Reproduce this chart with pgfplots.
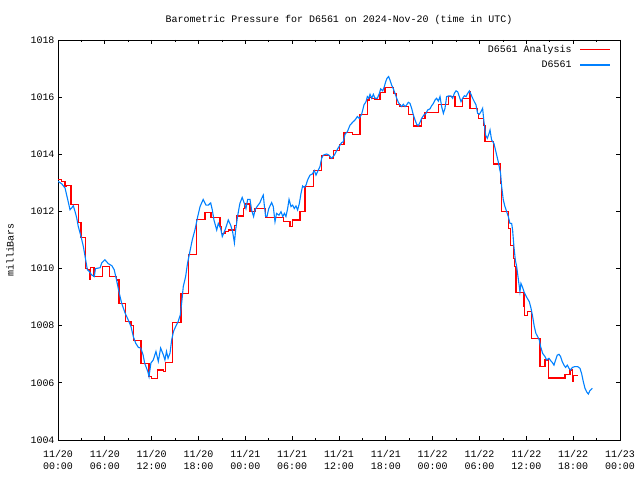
\documentclass[border=0pt]{standalone}
\usepackage{fontspec}
\setmainfont{Liberation Mono}
\usepackage{pgfplots}
\pgfplotsset{compat=1.18}
\definecolor{anared}{RGB}{255,0,0}
\definecolor{obsblue}{RGB}{0,128,255}

\begin{document}
\fontsize{10}{12}\selectfont
\begin{tikzpicture}
\path[use as bounding box] (-58bp,-40bp) rectangle (582bp,440bp);
\begin{axis}[
    scale only axis, width=562bp, height=400bp,
    at={(0,0)}, anchor=south west,
    xmin=0, xmax=72, ymin=1004, ymax=1018,
    xtick={0,6,...,72}, minor x tick num=1,
    ytick={1004,1006,...,1018},
    xticklabels={{11/20\\00:00},{11/20\\06:00},{11/20\\12:00},{11/20\\18:00},
                 {11/21\\00:00},{11/21\\06:00},{11/21\\12:00},{11/21\\18:00},
                 {11/22\\00:00},{11/22\\06:00},{11/22\\12:00},{11/22\\18:00},
                 {11/23\\00:00}},
    xticklabel style={align=center, font=\fontsize{10}{12}\selectfont, yshift=-7bp},
    /pgf/number format/assume math mode=true,
    yticklabel style={/pgf/number format/1000 sep={}},
    tick align=inside, major tick length=4bp, minor tick length=2bp,
    tick style={black, line width=0.8bp},
    axis line style={line width=0.8bp},
    title={Barometric Pressure for D6561 on 2024-Nov-20 (time in UTC)},
    title style={at={(0.5,1)}, anchor=base, yshift=12bp},
    ylabel={milliBars},
    ylabel style={at={(axis description cs:0,0.5)}, anchor=center, yshift=48bp, xshift=-10bp},
    legend plot pos=right, legend cell align=right,
    legend style={draw=none, fill=none, at={(1,1)}, anchor=north east,
                  xshift=-6bp, yshift=-1bp, row sep=3bp},
    legend image code/.code={\draw[#1] (0bp,0bp) (6bp,0bp) -- (36bp,0bp);},
]
\addplot[draw=anared, line width=1.1bp, const plot,
         legend image code/.code={\draw[anared, line width=1.3bp] (0bp,0bp) (6bp,0bp) -- (36bp,0bp);}]
coordinates {
(0,1013.13) (0.47,1013.05) (0.9,1012.87) (1.1,1012.9) (1.67,1012.23)
(2.6,1011.6) (2.95,1011.09) (3.54,1010.0) (3.76,1009.96) (4.01,1009.63)
(4.18,1010.03) (4.61,1009.72) (5.72,1010.07) (6.6,1009.72) (7.51,1009.6)
(7.81,1008.79) (8.67,1008.15) (9.35,1008.0) (9.65,1007.48) (10.63,1006.69)
(11.66,1006.22) (12.0,1006.16) (12.72,1006.45) (13.49,1006.4) (13.79,1006.7)
(14.65,1008.1) (15.76,1009.14) (16.7,1010.5) (17.76,1011.73) (18.83,1011.95)
(19.6,1011.79) (20.75,1011.47) (20.97,1011.24) (21.39,1011.3) (21.82,1011.35)
(22.59,1011.52) (22.89,1011.84) (23.74,1012.1) (23.95,1012.26) (24.6,1011.99)
(25.24,1012.1) (26.6,1011.79) (28.87,1011.64) (29.72,1011.47) (30.06,1011.7)
(31.0,1011.99) (31.64,1012.87) (32.71,1013.43) (33.78,1013.97) (34.84,1013.86)
(35.27,1014.13) (36.12,1014.33) (36.64,1014.76) (37.75,1014.7) (38.69,1015.38)
(39.63,1015.9) (39.89,1016.0) (40.19,1015.96) (40.61,1015.93) (41.25,1016.17)
(41.89,1016.33) (42.96,1016.13) (43.39,1015.73) (43.82,1015.67) (44.88,1015.38)
(45.52,1014.99) (46.59,1015.26) (47.02,1015.46) (48.73,1015.75) (50.01,1016.02)
(50.86,1015.67) (51.8,1015.96) (52.7,1016.19) (52.78,1015.61) (53.72,1015.43)
(53.85,1015.26) (54.49,1015.02) (54.7,1014.44) (55.85,1013.66) (56.71,1012.98)
(56.84,1011.99) (57.69,1011.4) (58.0,1010.82) (58.33,1010.36) (58.54,1010.07)
(58.67,1009.15) (59.7,1008.67) (59.82,1008.37) (60.12,1008.49) (60.68,1007.55)
(61.75,1006.57) (62.39,1006.8) (62.81,1006.17) (64.95,1006.3) (65.59,1006.45)
(65.89,1006.04) (66.02,1006.27) (66.66,1006.27)
};
\addlegendentry{D6561 Analysis}
\addplot[obsblue, line width=1.1bp] coordinates {
(0,1013.05) (0.47,1012.97) (0.9,1012.82) (1.3,1012.35) (1.54,1012.06)
(1.75,1012.12) (1.96,1012.2) (2.18,1012.0) (2.4,1011.77) (2.6,1011.47)
(2.95,1011.12) (3.25,1010.77) (3.54,1010.31) (3.76,1009.96) (4.0,1009.9)
(4.3,1009.78) (4.65,1009.72) (4.8,1010.0) (5.4,1010.03) (5.6,1010.2)
(6.0,1010.31) (6.45,1010.17) (6.9,1010.1) (7.2,1009.96) (7.5,1009.6)
(7.8,1009.2) (8.15,1008.79) (8.6,1008.44) (9.0,1008.2) (9.35,1007.97)
(9.65,1007.62) (9.95,1007.39) (10.3,1007.24) (10.6,1007.22) (10.9,1006.98)
(11.1,1006.69) (11.5,1006.4) (11.66,1006.22) (11.9,1006.69) (12.2,1006.8)
(12.55,1007.1) (12.85,1006.75) (13.15,1007.22) (13.5,1006.98) (13.7,1006.8)
(13.9,1007.1) (14.1,1006.86) (14.35,1007.04) (14.56,1007.5) (14.8,1007.8)
(15.07,1007.97) (15.4,1008.15) (15.67,1008.38) (15.84,1008.79) (16.05,1009.37)
(16.35,1009.72) (16.6,1010.19) (16.9,1010.6) (17.2,1011.0) (17.55,1011.36)
(17.9,1011.82) (18.2,1012.17) (18.6,1012.42) (18.96,1012.22) (19.26,1012.22)
(19.56,1012.3) (19.77,1012.05) (19.98,1011.7) (20.33,1011.35) (20.54,1011.58)
(20.84,1011.4) (21.05,1011.12) (21.4,1011.35) (21.82,1011.7) (22.12,1011.52)
(22.37,1011.29) (22.6,1010.9) (22.76,1011.35) (23.0,1011.82) (23.3,1012.28)
(23.6,1012.49) (23.87,1012.28) (24.08,1012.1) (24.3,1012.42) (24.6,1012.42)
(24.8,1012.05) (25.06,1011.82) (25.24,1012.05) (25.5,1012.17) (25.88,1012.31)
(26.1,1012.46) (26.3,1012.57) (26.43,1012.22) (26.6,1011.82) (26.77,1011.82)
(27.0,1012.1) (27.37,1012.31) (27.58,1012.17) (27.8,1011.64) (28.0,1011.93)
(28.31,1011.87) (28.57,1011.99) (28.8,1011.82) (29.0,1011.93) (29.2,1011.82)
(29.42,1012.1) (29.6,1012.42) (29.85,1012.17) (30.06,1012.22) (30.27,1012.1)
(30.49,1012.19) (30.7,1012.05) (30.92,1012.28) (31.13,1012.63) (31.34,1012.89)
(31.55,1012.84) (31.77,1012.92) (31.98,1013.1) (32.28,1013.27) (32.58,1013.31)
(32.84,1013.43) (33.05,1013.27) (33.35,1013.45) (33.56,1013.57) (33.78,1013.86)
(33.99,1013.97) (34.4,1014.01) (34.71,1013.97) (35.05,1013.86) (35.4,1013.97)
(35.7,1014.13) (36.0,1014.27) (36.34,1014.41) (36.55,1014.44) (36.77,1014.7)
(37.07,1014.79) (37.41,1015.02) (37.75,1015.12) (38.05,1015.2) (38.35,1015.32)
(38.6,1015.26) (38.9,1015.4) (39.2,1015.73) (39.46,1015.84) (39.63,1016.02)
(39.8,1015.96) (39.97,1016.1) (40.19,1015.96) (40.4,1016.1) (40.61,1015.96)
(40.91,1015.96) (41.17,1016.13) (41.34,1016.29) (41.6,1016.22) (41.81,1016.37)
(41.98,1016.54) (42.15,1016.66) (42.36,1016.72) (42.53,1016.6) (42.75,1016.42)
(42.96,1016.29) (43.18,1016.13) (43.39,1015.96) (43.6,1015.82) (43.82,1015.73)
(44.03,1015.67) (44.24,1015.75) (44.46,1015.67) (44.67,1015.73) (44.88,1015.82)
(45.1,1015.78) (45.31,1015.61) (45.52,1015.38) (45.74,1015.2) (45.95,1015.05)
(46.16,1015.0) (46.38,1015.12) (46.59,1015.26) (46.89,1015.38) (47.15,1015.43)
(47.36,1015.55) (47.66,1015.59) (47.87,1015.7) (48.09,1015.78) (48.3,1015.9)
(48.51,1015.96) (48.73,1015.86) (48.94,1016.02) (49.15,1015.67) (49.37,1015.43)
(49.58,1015.61) (49.79,1016.02) (50.01,1016.04) (50.35,1016.04) (50.56,1015.96)
(50.77,1016.13) (50.99,1016.22) (51.2,1016.19) (51.42,1016.02) (51.63,1015.84)
(51.84,1015.96) (52.06,1016.05) (52.27,1016.02) (52.48,1016.13) (52.7,1016.22)
(52.91,1016.1) (53.12,1015.96) (53.34,1015.84) (53.55,1015.73) (53.76,1015.43)
(53.98,1015.4) (54.19,1015.49) (54.4,1015.61) (54.57,1015.14) (54.79,1014.67)
(55.0,1014.56) (55.22,1014.73) (55.35,1014.85) (55.55,1014.5) (55.85,1014.38)
(56.1,1014.09) (56.4,1013.74) (56.7,1013.33) (56.84,1012.87) (57.05,1012.4)
(57.26,1012.17) (57.48,1011.99) (57.69,1011.82) (57.9,1011.58) (58.12,1011.58)
(58.24,1011.35) (58.41,1010.77) (58.59,1010.3) (58.76,1010.07) (58.93,1009.72)
(59.1,1009.37) (59.18,1009.19) (59.31,1009.48) (59.48,1009.37) (59.7,1009.19)
(59.91,1009.07) (60.12,1008.96) (60.38,1008.84) (60.6,1008.61) (60.81,1008.32)
(61.02,1007.97) (61.23,1007.73) (61.45,1007.62) (61.66,1007.5) (61.83,1007.27)
(62.09,1007.03) (62.39,1006.92) (62.6,1006.8) (62.9,1006.86) (63.11,1006.78)
(63.33,1006.71) (63.54,1006.62) (63.75,1006.8) (63.96,1006.97) (64.18,1007.0)
(64.39,1006.92) (64.6,1006.74) (64.82,1006.62) (65.03,1006.54) (65.25,1006.62)
(65.46,1006.51) (65.67,1006.45) (65.89,1006.54) (66.23,1006.57) (66.57,1006.57)
(66.87,1006.51) (67.08,1006.33) (67.3,1006.04) (67.51,1005.81) (67.72,1005.69)
(67.94,1005.61) (68.15,1005.73) (68.45,1005.81)
};
\addlegendentry{D6561}
\end{axis}
\end{tikzpicture}
\end{document}
